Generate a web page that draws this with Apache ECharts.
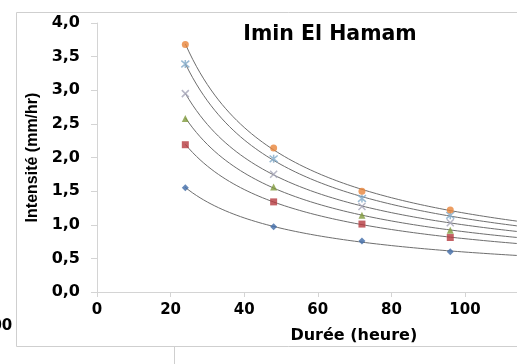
<!DOCTYPE html>
<html>
<head>
<meta charset="utf-8">
<script src="https://cdn.jsdelivr.net/npm/echarts@6/dist/echarts.min.js"></script>
<style>
html,body{margin:0;padding:0;background:#fff;overflow:hidden;width:517px;height:364px;}
#c{width:560px;height:364px;}
</style>
</head>
<body>
<div id="c"></div>
<script>
// Durations (hours)
const durations = [24, 48, 72, 96];
// Intensity series (mm/hr) for each return period, bottom to top
const sBlue   = [1.55, 0.97, 0.76, 0.60];
const sRed    = [2.19, 1.34, 1.01, 0.81];
const sGreen  = [2.58, 1.56, 1.14, 0.92];
const sGrey   = [2.95, 1.75, 1.27, 1.03];
const sAqua   = [3.39, 1.98, 1.39, 1.14];
const sOrange = [3.68, 2.14, 1.50, 1.22];
const yTicks = [0, 0.5, 1, 1.5, 2, 2.5, 3, 3.5, 4];
const xTicks = [0, 20, 40, 60, 80, 100, 120];

const seriesDefs = [
  {data: sBlue,   color: '#3f6aa8', symbol: 'diamond', size: 7},
  {data: sRed,    color: '#b5393f', symbol: 'rect', size: 7},
  {data: sGreen,  color: '#7f9a3c', symbol: 'triangle', size: 7},
  {data: sGrey,   color: '#a5a5b8', symbol: 'path://M0,0L10,10M10,0L0,10', size: 7, stroke: true},
  {data: sAqua,   color: '#7fa9c8', symbol: 'path://M0,0L10,10M10,0L0,10M5,-1L5,11', size: 8, stroke: true},
  {data: sOrange, color: '#e8853a', symbol: 'circle', size: 7}
];

// power-law trendline (least squares on log-log), as an Excel "puissance" trendline
function powerFit(xs, ys) {
  const n = xs.length;
  let sx = 0, sy = 0, sxx = 0, sxy = 0;
  for (let i = 0; i < n; i++) {
    const lx = Math.log(xs[i]), ly = Math.log(ys[i]);
    sx += lx; sy += ly; sxx += lx * lx; sxy += lx * ly;
  }
  const b = (n * sxy - sx * sy) / (n * sxx - sx * sx);
  const a = Math.exp((sy - b * sx) / n);
  return t => a * Math.pow(t, b);
}

const series = [];
seriesDefs.forEach(d => {
  const f = powerFit(durations, d.data);
  const pts = [];
  for (let t = durations[0]; t <= 120; t += 1) pts.push([t, f(t)]);
  series.push({
    type: 'line', data: pts, showSymbol: false, smooth: false, silent: true,
    lineStyle: {color: '#6e6e6e', width: 1}, z: 2
  });
});
seriesDefs.forEach(d => {
  series.push({
    type: 'scatter',
    data: durations.map((t, i) => [t, d.data[i]]),
    symbol: d.symbol, symbolSize: d.size, z: 5,
    itemStyle: d.stroke ? {color: 'rgba(0,0,0,0)', borderColor: d.color, borderWidth: 1.5}
                        : {color: d.color}
  });
});

const chart = echarts.init(document.getElementById('c'), null, {renderer: 'canvas'});
chart.setOption({
  animation: false,
  backgroundColor: '#fff',
  title: {
    text: 'Imin El Hamam', left: 325, top: 19, textAlign: 'center',
    textStyle: {fontFamily: 'DejaVu Sans', fontWeight: 'bold', fontSize: 20.5, color: '#000'}
  },
  grid: {left: 97, right: 21.4, top: 23, bottom: 72, containLabel: false},
  xAxis: {
    type: 'value', min: xTicks[0], max: xTicks[xTicks.length - 1], interval: 20,
    name: 'Durée (heure)', nameLocation: 'middle', nameGap: 36,
    nameTextStyle: {fontFamily: 'DejaVu Sans', fontWeight: 'bold', fontSize: 16, color: '#000', padding: [0, 0, 0, 72]},
    axisLine: {show: true, lineStyle: {color: '#d4d4d4', width: 1}},
    axisTick: {show: true, length: 5, lineStyle: {color: '#d4d4d4'}},
    axisLabel: {margin: 11, fontFamily: 'DejaVu Sans', fontWeight: 'bold', fontSize: 15, color: '#000'},
    splitLine: {show: false}
  },
  yAxis: {
    type: 'value', min: yTicks[0], max: yTicks[yTicks.length - 1], interval: 0.5,
    name: 'Intensité (mm/hr)', nameLocation: 'middle', nameGap: 51,
    nameTextStyle: {fontFamily: 'Liberation Sans', fontWeight: 'bold', fontSize: 16, color: '#000'},
    axisLine: {show: true, lineStyle: {color: '#d4d4d4', width: 1}},
    axisTick: {show: true, length: 6, lineStyle: {color: '#d4d4d4'}},
    axisLabel: {margin: 17, fontFamily: 'DejaVu Sans', fontWeight: 'bold', fontSize: 16, color: '#000',
      formatter: v => v.toFixed(1).replace('.', ',')},
    splitLine: {show: false}
  },
  graphic: [
    {type: 'polyline', silent: true, z: 0,
     shape: {points: [[600, 12.5], [16.5, 12.5], [16.5, 346.5], [600, 346.5]]},
     style: {stroke: '#cfcfcf', lineWidth: 1, fill: null}},
    {type: 'line', silent: true, z: 0,
     shape: {x1: 174.5, y1: 346.5, x2: 174.5, y2: 364},
     style: {stroke: '#cfcfcf', lineWidth: 1}},
    {type: 'text', silent: true, z: 0, left: -19, top: 319,
     style: {text: '100', font: 'bold 15px "DejaVu Sans"', fill: '#000'}}
  ],
  series: series
});
</script>
</body>
</html>
